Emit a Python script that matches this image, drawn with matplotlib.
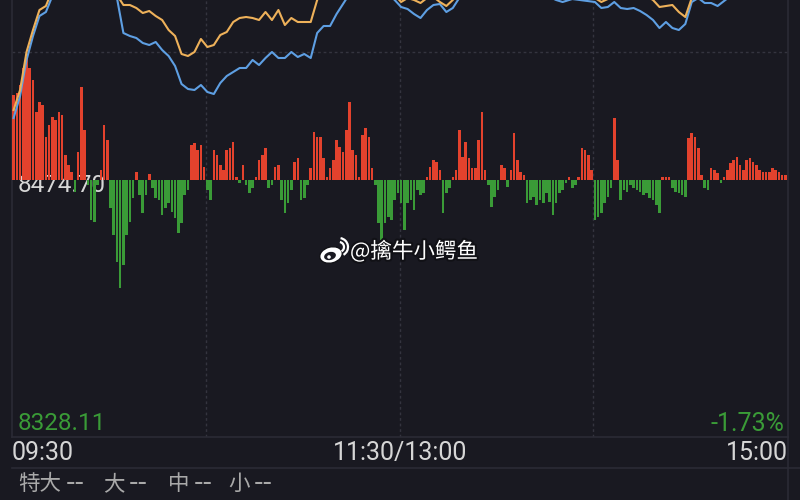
import numpy as np
import matplotlib
matplotlib.use("Agg")
import matplotlib.pyplot as plt
from matplotlib import patheffects
from matplotlib.lines import Line2D
from matplotlib.patches import Ellipse, Arc, Circle

# price labels
prev_close = 8474.70
day_low = 8328.11
time_labels = ["09:30", "11:30/13:00", "15:00"]
legend_items = ["特大", "大", "中", "小"]
legend_value = "--"
watermark = "@擒牛小鳄鱼"

# per-minute net flow bars (240 minutes, red = inflow, green = outflow)
flow = [
    85, 87, 95, 112, 122, 112, 100, 68, 78, 75,
    43, 55, 63, 60, 68, 65, 25, 15, 8, -12,
    28, 93, 50, -5, -40, -42, -5, 10, 55, 40,
    -28, -55, -82, -108, -85, -55, -42, -18, 8, -15,
    -33, -15, 6, -8, -18, -20, -35, -28, -23, -32,
    -38, -53, -43, -15, -10, 35, 37, 30, 35, 13,
    -10, -20, 30, 25, 15, 10, 30, 32, 38, 3,
    -3, 15, -5, -13, -8, 3, 20, 25, 32, -8,
    -5, 13, 15, -20, -33, -23, -10, 18, 22, -20,
    -18, -5, 12, 48, 43, 43, 22, 3, 12, 20,
    40, 33, 28, 50, 78, 30, 25, 3, 45, 52,
    43, 12, -5, -43, -60, -43, -37, -40, -20, -13,
    -23, -50, -23, -20, -30, -10, -15, -13, 3, 13,
    20, 18, 10, -33, -13, -8, 3, 10, 50, 23,
    38, 22, 12, 12, 40, 68, 10, -5, -27, -17,
    -10, 15, 12, -7, 10, 47, 20, 8, 5, -23,
    -20, -17, -25, -20, -23, -13, -22, -35, -23, -13,
    -10, -3, 3, -8, -5, 3, 32, 30, 25, 10,
    -40, -37, -33, -23, -17, -8, 62, 20, -20, -10,
    -12, -5, -8, -10, -12, -15, -13, -18, -20, -25,
    -33, 3, 3, 3, -8, -12, -13, -15, -17, 42,
    47, 43, 32, 5, -8, -10, 12, 10, 7, -3,
    3, 10, 17, 20, 23, 15, 10, 20, 22, 18,
    15, 10, 8, 8, 8, 12, 10, 8, 5, 5,
]

# cumulative lines, sampled every 2 minutes
line_minutes = list(range(0, 240, 2))
orange_line = [
    70, 90, 128, 150, 170, 174, 190, 205, 215, 220,
    230, 225, 235, 220, 215, 210, 185, 175, 175, 172,
    167, 169, 164, 160, 150, 144, 126, 124, 128, 141,
    133, 135, 145, 148, 158, 162, 163, 162, 160, 168,
    160, 170, 155, 162, 158, 158, 158, 180, 190, 186,
    200, 210, 215, 220, 218, 215, 210, 205, 195, 185,
    178, 182, 180, 177, 182, 183, 178, 174, 180, 188,
    195, 200, 205, 208, 210, 212, 210, 208, 205, 202,
    200, 198, 195, 190, 188, 186, 188, 190, 188, 185,
    182, 178, 181, 185, 188, 190, 188, 186, 184, 180,
    173, 174, 175, 168, 163, 182, 188, 190, 192, 190,
    194, 198, 200, 202, 205, 204, 206, 208, 210, 212,
]
blue_line = [
    62, 84, 120, 144, 164, 168, 184, 198, 208, 210,
    220, 215, 222, 210, 202, 192, 182, 147, 144, 142,
    137, 135, 138, 130, 124, 114, 96, 91, 90, 95,
    88, 86, 97, 104, 108, 112, 112, 120, 115, 122,
    128, 122, 122, 128, 123, 126, 122, 147, 154, 154,
    166, 176, 186, 192, 195, 194, 192, 190, 186, 180,
    173, 171, 166, 162, 170, 175, 176, 168, 172, 182,
    188, 192, 195, 198, 200, 200, 198, 195, 194, 192,
    190, 188, 185, 183, 180, 178, 180, 182, 183, 181,
    178, 172, 173, 178, 172, 171, 172, 169, 165, 160,
    152, 158, 152, 150, 156, 178, 182, 177, 177, 174,
    179, 184, 186, 188, 190, 190, 192, 192, 194, 195,
]

bg = "#191921"
red = "#e3422d"
green = "#3a9b37"
orange = "#eeb15a"
blue = "#5e9fe3"
grid = "#34343f"
label_grey = "#d6d6d6"
num_font = ["Roboto", "DejaVu Sans"]
cjk_font = ["Noto Sans CJK SC", "DejaVu Sans"]

fig = plt.figure(figsize=(8, 5), dpi=100, facecolor=bg)

# background overlay (prev close label sits under the bars)
ov = fig.add_axes([0, 0, 1, 1], facecolor=bg)
ov.set_xlim(0, 800)
ov.set_ylim(500, 0)
ov.axis("off")
ov.set_zorder(0)

ax = fig.add_axes([12 / 800, 63 / 500, 776 / 800, 437 / 500])
ax.set_zorder(1)
ax.patch.set_alpha(0)

x = np.arange(len(flow))
vals = np.array(flow)
colors = [red if v >= 0 else green for v in vals]
ax.bar(x, vals, width=0.8, color=colors, zorder=3)
ax.plot(line_minutes, blue_line, color=blue, lw=1.5, zorder=4)
ax.plot(line_minutes, orange_line, color=orange, lw=1.5, zorder=5)

ax.set_xlim(-0.5, 239.8)
ax.set_ylim(-257, 180)

ax.axhline(128, color=grid, lw=1, ls=(0, (2, 2)), zorder=1)
for xv in [59.5, 119.5, 179.5]:
    ax.axvline(xv, color=grid, lw=1, ls=(0, (2, 2)), zorder=1)

ax.set_xticks([])
ax.set_yticks([])
ax.spines["top"].set_visible(False)
for side in ["left", "right", "bottom"]:
    ax.spines[side].set_color("#2b2b35")
    ax.spines[side].set_linewidth(1.2)

ov.add_line(Line2D([12, 800], [468, 468], color="#2b2b35", lw=1.2))
ov.add_line(Line2D([788, 788], [437, 500], color="#2b2b35", lw=1.2))
ov.text(18, 192, f"{prev_close:.2f}", color=label_grey, fontsize=17.5,
        family=num_font, va="baseline")

# foreground overlay for labels and watermark
ov2 = fig.add_axes([0, 0, 1, 1], facecolor="none")
ov2.set_xlim(0, 800)
ov2.set_ylim(500, 0)
ov2.axis("off")
ov2.set_zorder(2)

pct = (day_low / prev_close - 1) * 100
ov2.text(18, 430, f"{day_low:.2f}", color=green, fontsize=17.5,
         family=num_font, va="baseline")
ov2.text(784, 431, f"{pct:.2f}%", color=green, fontsize=18,
         family=num_font, va="baseline", ha="right")

ov2.text(12, 460, time_labels[0], color=label_grey, fontsize=18,
         family=num_font, va="baseline", ha="left")
ov2.text(400, 460, time_labels[1], color=label_grey, fontsize=18,
         family=num_font, va="baseline", ha="center")
ov2.text(788, 460, time_labels[2], color=label_grey, fontsize=18,
         family=num_font, va="baseline", ha="right")

legend_x = [18, 103, 168, 228]
for lx, name in zip(legend_x, legend_items):
    ov2.text(lx, 484, name, color="#a9a9a9", fontsize=15.5,
             family=cjk_font, va="center", ha="left")
    off = 22 * len(name) + 4
    ov2.text(lx + off, 483, legend_value, color="#a9a9a9", fontsize=19,
             family=["DejaVu Sans"], va="center", ha="left")

# weibo style watermark
shadow = [patheffects.withStroke(linewidth=3, foreground="#111116")]
ov2.text(350, 252, watermark, color="white", fontsize=15.5, family=cjk_font,
         va="center", ha="left", path_effects=shadow)
ov2.add_patch(Ellipse((331, 255), 23, 16, angle=-15, facecolor="white",
                      edgecolor="#111116", lw=1))
ov2.add_patch(Ellipse((330, 256), 12, 8, angle=-15, facecolor=bg))
ov2.add_patch(Circle((329, 257), 1.8, facecolor="white"))
ov2.add_patch(Arc((339, 247), 10, 10, theta1=-80, theta2=60, color="white", lw=1.6))
ov2.add_patch(Arc((339, 247), 18, 18, theta1=-80, theta2=60, color="white", lw=1.6))

fig.savefig("out.png", dpi=100, facecolor=bg)
